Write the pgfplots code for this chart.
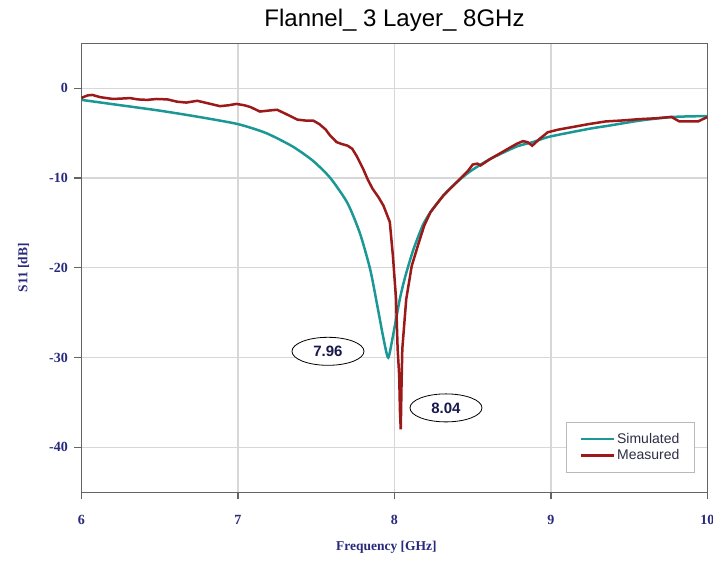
\documentclass[border=0pt]{standalone}
\usepackage{fontspec}
\setmainfont{Liberation Serif}
\newfontfamily\arial{Liberation Sans}
\usepackage{pgfplots}
\pgfplotsset{compat=1.18}
\usetikzlibrary{shapes.geometric}
\definecolor{simc}{RGB}{27,152,150}
\definecolor{measc}{RGB}{155,25,25}
\definecolor{navy}{RGB}{40,40,125}
\definecolor{axisgray}{RGB}{100,100,100}
\definecolor{gridgray}{RGB}{215,215,215}
\definecolor{legtext}{RGB}{45,45,70}

\begin{document}
\begin{tikzpicture}
\begin{axis}[
  scale only axis, width=626pt, height=449pt,
  xmin=6, xmax=10, ymin=-45, ymax=5,
  xtick={6,7,8,9,10}, ytick={0,-10,-20,-30,-40},
  grid=major, major grid style={gridgray, line width=1.3pt},
  axis line style={axisgray, line width=1.5pt},
  tick pos=left, tick align=outside, major tick length=7pt,
  tick style={axisgray, line width=1.2pt},
  /pgf/number format/assume math mode=true,
  ticklabel style={font=\fontsize{14}{14}\selectfont\bfseries, text=navy},
  xticklabel style={anchor=north, inner sep=0pt, yshift=-16pt},
  yticklabel style={anchor=east, inner sep=0pt, xshift=-6.5pt},
  xlabel={Frequency [GHz]},
  xlabel style={at={(axis description cs:0.487,-0.109)}, anchor=north, inner sep=0pt,
    font=\fontsize{13.5}{13.5}\selectfont\bfseries, text=navy},
  ylabel={S11 [dB]},
  ylabel style={at={(axis description cs:-0.0926,0.5)}, anchor=center, inner sep=0pt,
    font=\fontsize{13.5}{13.5}\selectfont\bfseries, text=navy},
  title={Flannel\_ 3 Layer\_ 8GHz},
  title style={at={(axis description cs:0.5,1.025)}, anchor=base, inner sep=0pt,
    font=\arial\fontsize{24}{24}\selectfont},
  legend style={at={(rel axis cs:0.980,0.043)}, anchor=south east,
    draw=gray!55, line width=1.2pt, fill=white,
    font=\arial\fontsize{14}{14}\selectfont, text=legtext,
    inner xsep=13pt, inner ysep=9pt, row sep=1pt},
  legend cell align=left,
  legend image code/.code={\draw[#1, line width=2.5pt] (0pt,0pt) -- (33pt,0pt);},
]
\addplot[simc, line width=2.5pt, smooth, tension=0.4] coordinates {
(6.00,-1.3) (6.25,-1.9) (6.50,-2.5) (6.75,-3.2) (7.00,-4.0) (7.18,-5.0)
(7.35,-6.5) (7.48,-8.1) (7.59,-10.0) (7.70,-12.8) (7.78,-16.2) (7.845,-20.2)
(7.89,-24.2) (7.93,-27.9) (7.96,-30.0) (7.99,-27.6) (8.035,-23.4) (8.07,-20.9)
(8.12,-18.0) (8.18,-15.3) (8.23,-13.8) (8.31,-12.0) (8.39,-10.6) (8.48,-9.3)
(8.61,-7.9) (8.78,-6.5) (8.885,-6.0) (8.99,-5.4) (9.25,-4.5) (9.36,-4.2)
(9.57,-3.6) (9.78,-3.2) (10.0,-3.1)
};
\addlegendentry{Simulated}
\addplot[measc, line width=2.5pt] coordinates {
(6.00,-1.1) (6.01,-1.0) (6.04,-0.8) (6.07,-0.75) (6.12,-1.0) (6.20,-1.2) (6.26,-1.15)
(6.31,-1.1) (6.36,-1.25) (6.42,-1.3) (6.48,-1.2)
(6.55,-1.25) (6.61,-1.5) (6.67,-1.6) (6.74,-1.4) (6.80,-1.65) (6.885,-2.0)
(6.94,-1.9) (6.99,-1.75) (7.04,-1.9) (7.08,-2.1) (7.14,-2.6) (7.19,-2.5) (7.25,-2.4) (7.31,-2.9) (7.38,-3.5)
(7.43,-3.6) (7.48,-3.6) (7.52,-4.0) (7.56,-4.6) (7.59,-5.3) (7.63,-6.0) (7.66,-6.2) (7.70,-6.4) (7.73,-6.75)
(7.76,-7.6) (7.80,-9.0) (7.83,-10.2) (7.86,-11.2) (7.90,-12.2) (7.93,-13.1) (7.97,-14.9) (7.99,-18.7) (8.01,-23.5)
(8.02,-29) (8.03,-32) (8.035,-36) (8.04,-38) (8.045,-33) (8.05,-29)
(8.075,-23.5) (8.11,-19.8) (8.15,-17.5) (8.19,-15.3) (8.23,-13.8) (8.27,-12.9) (8.31,-12.0)
(8.35,-11.3) (8.39,-10.6) (8.43,-9.9) (8.47,-9.2) (8.50,-8.5) (8.53,-8.4) (8.55,-8.6) (8.61,-7.9)
(8.70,-7.0) (8.78,-6.2) (8.82,-5.9) (8.85,-6.0) (8.88,-6.4) (8.93,-5.6) (8.98,-4.9)
(9.05,-4.6) (9.13,-4.35) (9.24,-4.0) (9.35,-3.7) (9.45,-3.6) (9.56,-3.45) (9.67,-3.35) (9.77,-3.2) (9.82,-3.7) (9.94,-3.7)
(10.0,-3.2)
};
\addlegendentry{Measured}
\node[draw=black, line width=0.8pt, ellipse, fill=white, minimum width=72pt, minimum height=28pt,
  inner sep=0pt, font=\arial\bfseries\fontsize{15}{15}\selectfont, text=navy!60!black]
  at (axis cs:7.575,-29.3) {7.96};
\node[draw=black, line width=0.8pt, ellipse, fill=white, minimum width=72pt, minimum height=28pt,
  inner sep=0pt, font=\arial\bfseries\fontsize{15}{15}\selectfont, text=navy!60!black]
  at (axis cs:8.329,-35.6) {8.04};
\end{axis}
\pgfresetboundingbox
\path[use as bounding box] (-81.5pt,-70.7pt) rectangle (631.5pt,492.3pt);
\end{tikzpicture}
\end{document}
